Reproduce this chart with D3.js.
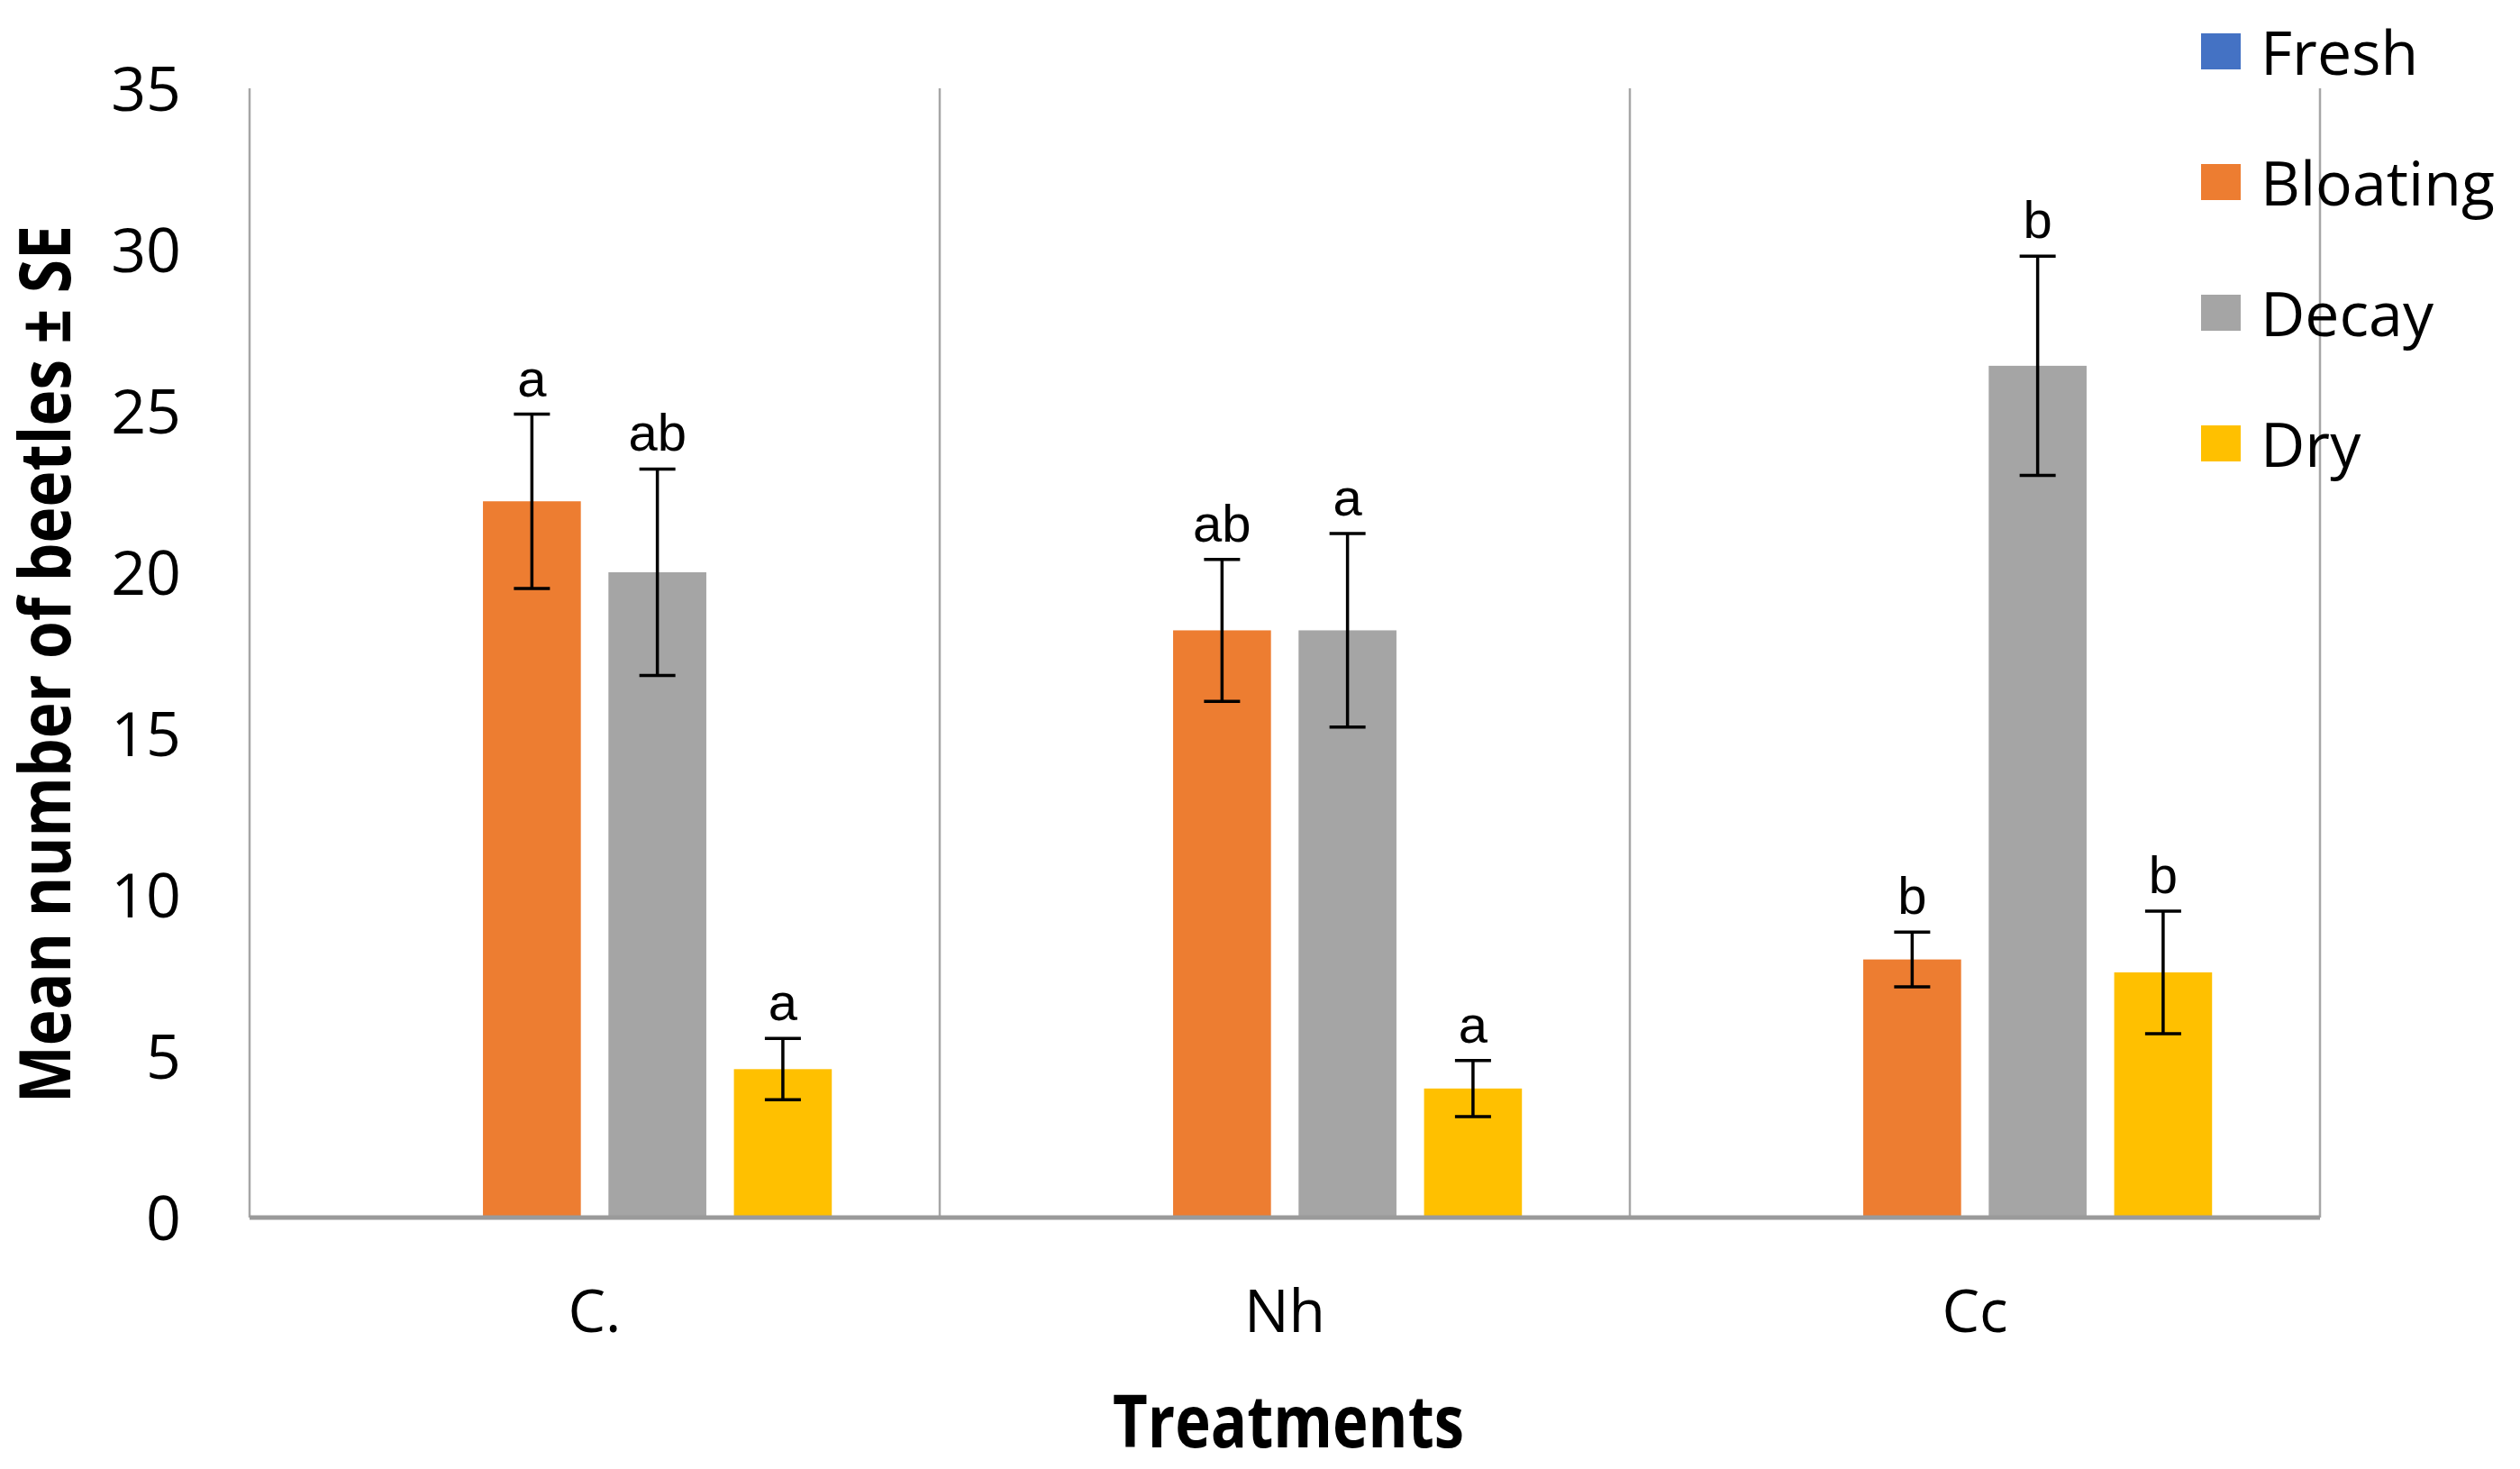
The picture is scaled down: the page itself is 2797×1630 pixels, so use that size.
<!DOCTYPE html>
<html>
<head>
<meta charset="utf-8">
<script src="https://cdn.jsdelivr.net/npm/d3@7"></script>
<style>
  body { margin: 0; background: #fff; }
  text { font-family: "Open Sans", sans-serif; }
</style>
</head>
<body>
<script>
var width = 2797;
var height = 1630;

var treatments = ["C.", "Nh", "Cc"];
var stages = ["Fresh", "Bloating", "Decay", "Dry"];
var colors = ["#4472C4", "#ED7D31", "#A5A5A5", "#FFC000"];

// mean values per stage, one entry per treatment
var fresh = [0, 0, 0];
var bloating = [22.2, 18.2, 8.0];
var decay = [20.0, 18.2, 26.4];
var dry = [4.6, 4.0, 7.6];

// standard errors
var freshSE = [0, 0, 0];
var bloatingSE = [2.7, 2.2, 0.85];
var decaySE = [3.2, 3.0, 3.4];
var drySE = [0.95, 0.87, 1.9];

// significance letters
var freshLetters = ["", "", ""];
var bloatingLetters = ["a", "ab", "b"];
var decayLetters = ["ab", "a", "b"];
var dryLetters = ["a", "a", "b"];

var yTicks = [0, 5, 10, 15, 20, 25, 30, 35];

var means = [fresh, bloating, decay, dry];
var errs = [freshSE, bloatingSE, decaySE, drySE];
var letters = [freshLetters, bloatingLetters, decayLetters, dryLetters];

var plotLeft = 277, plotRight = 2575, plotTop = 98, plotBottom = 1351;

var svg = d3.select("body")
  .append("svg")
  .attr("width", width)
  .attr("height", height);

var x0 = d3.scaleBand().domain(treatments).range([plotLeft, plotRight]).padding(0);
var x1 = d3.scaleBand().domain(stages).range([0, x0.bandwidth()])
  .paddingInner(0.22).paddingOuter(0.86);
var y = d3.scaleLinear().domain([0, 35]).range([plotBottom, plotTop]);

// flatten into rows
var rows = [];
for (var t = 0; t < treatments.length; t++) {
  for (var s = 0; s < stages.length; s++) {
    rows.push({t: treatments[t], s: stages[s], c: colors[s],
      v: means[s][t], e: errs[s][t], l: letters[s][t]});
  }
}

// bars
svg.selectAll("rect.bar")
  .data(rows)
  .enter()
  .append("rect")
  .attr("class", "bar")
  .attr("x", function(d) { return x0(d.t) + x1(d.s); })
  .attr("y", function(d) { return y(d.v); })
  .attr("width", x1.bandwidth())
  .attr("height", function(d) { return y(0) - y(d.v); })
  .attr("fill", function(d) { return d.c; });

// category divider lines and frame
var lines = svg.append("g").attr("stroke", "#a6a6a6").attr("stroke-width", 2.5);
lines.append("line").attr("x1", plotLeft).attr("x2", plotLeft).attr("y1", plotTop).attr("y2", plotBottom);
treatments.slice(1).forEach(function(t) {
  lines.append("line").attr("x1", x0(t)).attr("x2", x0(t)).attr("y1", plotTop).attr("y2", plotBottom);
});
lines.append("line").attr("x1", plotRight).attr("x2", plotRight).attr("y1", plotTop).attr("y2", plotBottom);
svg.append("line").attr("x1", plotLeft).attr("x2", plotRight).attr("y1", plotBottom).attr("y2", plotBottom)
  .attr("stroke", "#9a9a9a").attr("stroke-width", 5);

// error bars
var eb = svg.append("g").attr("stroke", "#000").attr("stroke-width", 3.5);
rows.filter(function(d) { return d.e > 0; }).forEach(function(d) {
  var cx = x0(d.t) + x1(d.s) + x1.bandwidth() / 2;
  var hi = y(d.v + d.e), lo = y(d.v - d.e);
  eb.append("line").attr("x1", cx).attr("x2", cx).attr("y1", hi).attr("y2", lo);
  eb.append("line").attr("x1", cx - 20).attr("x2", cx + 20).attr("y1", hi).attr("y2", hi);
  eb.append("line").attr("x1", cx - 20).attr("x2", cx + 20).attr("y1", lo).attr("y2", lo);
});

// letters
svg.selectAll("text.letter")
  .data(rows.filter(function(d) { return d.l !== ""; }))
  .enter()
  .append("text")
  .attr("class", "letter")
  .attr("x", function(d) { return x0(d.t) + x1(d.s) + x1.bandwidth() / 2; })
  .attr("y", function(d) { return y(d.v + d.e) - 20; })
  .attr("text-anchor", "middle")
  .style("font-family", "'Liberation Sans', Arial, sans-serif")
  .style("font-size", "58px")
  .text(function(d) { return d.l; });

// y axis labels
var yAxis = d3.axisLeft(y).tickValues(yTicks).tickSize(0).tickPadding(76);
var yg = svg.append("g").attr("transform", "translate(" + plotLeft + ",0)").call(yAxis);
yg.select(".domain").remove();
yg.selectAll("text").style("font-family", "'Open Sans', sans-serif")
  .style("font-size", "68px").attr("fill", "#000").attr("dy", "0.36em");

// x axis labels
var xAxis = d3.axisBottom(x0).tickSize(0).tickPadding(80);
var xg = svg.append("g").attr("transform", "translate(0," + plotBottom + ")").call(xAxis);
xg.select(".domain").remove();
xg.selectAll("text").style("font-family", "'Open Sans', sans-serif")
  .style("font-size", "66px").attr("fill", "#000");

// axis titles
svg.append("text")
  .attr("transform", "translate(78,737) rotate(-90)")
  .attr("text-anchor", "middle")
  .attr("textLength", 974)
  .attr("lengthAdjust", "spacingAndGlyphs")
  .style("font-weight", "bold")
  .style("font-size", "78px")
  .text("Mean number of beetles \u00b1 SE");

svg.append("text")
  .attr("x", 1430)
  .attr("y", 1606)
  .attr("text-anchor", "middle")
  .attr("textLength", 390)
  .attr("lengthAdjust", "spacingAndGlyphs")
  .style("font-weight", "bold")
  .style("font-size", "80px")
  .text("Treatments");

// legend
var legend = svg.selectAll("g.legend")
  .data(stages)
  .enter()
  .append("g")
  .attr("class", "legend")
  .attr("transform", function(d, i) { return "translate(2443," + (59 + i * 145) + ")"; });
legend.append("rect")
  .attr("x", 0).attr("y", -22).attr("width", 44).attr("height", 40)
  .attr("fill", function(d, i) { return colors[i]; });
legend.append("text")
  .attr("x", 66).attr("y", 0).attr("dy", "0.35em")
  .style("font-size", "68px")
  .text(function(d) { return d; });
</script>
</body>
</html>
